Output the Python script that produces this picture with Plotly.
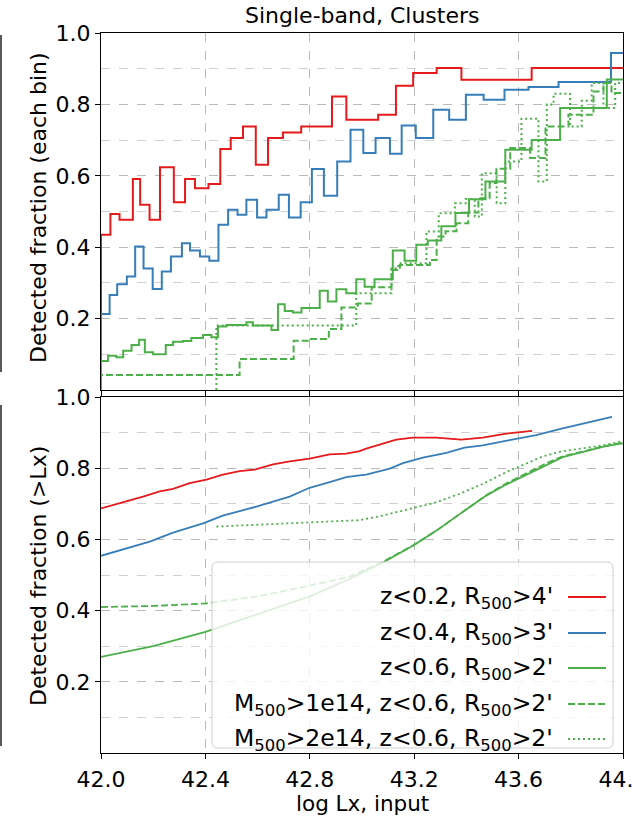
import plotly.graph_objects as go

# ---------------- data: top panel (per-bin detected fraction, step histograms) -------------
red_edges = [42.000, 42.036, 42.071, 42.122, 42.150, 42.186, 42.226, 42.279, 42.322, 42.360,
             42.412, 42.457, 42.497, 42.544, 42.593, 42.640, 42.697, 42.767, 42.885, 42.940,
             43.062, 43.130, 43.196, 43.286, 43.381, 43.650, 44.000]
red_frac = [0.435, 0.493, 0.477, 0.591, 0.519, 0.477, 0.624, 0.526, 0.591, 0.565,
            0.577, 0.675, 0.706, 0.738, 0.631, 0.706, 0.721, 0.738, 0.822, 0.757,
            0.771, 0.852, 0.888, 0.902, 0.869, 0.902]

blue_edges = [42.000, 42.033, 42.062, 42.099, 42.131, 42.163, 42.198, 42.233, 42.268, 42.310,
              42.341, 42.379, 42.415, 42.450, 42.487, 42.523, 42.557, 42.598, 42.634, 42.681,
              42.720, 42.765, 42.808, 42.854, 42.905, 42.956, 43.005, 43.052, 43.107, 43.152,
              43.206, 43.273, 43.334, 43.398, 43.466, 43.546, 43.638, 43.753, 43.954, 44.000]
blue_frac = [0.213, 0.266, 0.296, 0.318, 0.402, 0.340, 0.283, 0.332, 0.374, 0.411,
             0.391, 0.374, 0.362, 0.463, 0.505, 0.491, 0.533, 0.483, 0.505, 0.547,
             0.483, 0.526, 0.619, 0.544, 0.640, 0.729, 0.664, 0.706, 0.662, 0.741,
             0.706, 0.785, 0.757, 0.827, 0.813, 0.841, 0.849, 0.863, 0.944]

green_edges = [42.000, 42.027, 42.059, 42.085, 42.117, 42.146, 42.168, 42.199, 42.248, 42.276,
               42.314, 42.346, 42.391, 42.423, 42.448, 42.480, 42.557, 42.582, 42.653, 42.678,
               42.704, 42.735, 42.768, 42.838, 42.869, 42.902, 42.940, 42.978, 43.010, 43.048,
               43.118, 43.163, 43.208, 43.252, 43.304, 43.358, 43.410, 43.473, 43.549, 43.650,
               43.759, 43.938, 44.000]
green_frac = [0.081, 0.096, 0.092, 0.110, 0.126, 0.141, 0.106, 0.100, 0.126, 0.135,
              0.137, 0.146, 0.154, 0.148, 0.178, 0.182, 0.190, 0.181, 0.168, 0.240,
              0.221, 0.217, 0.230, 0.278, 0.248, 0.282, 0.271, 0.310, 0.289, 0.310,
              0.391, 0.362, 0.407, 0.419, 0.459, 0.496, 0.534, 0.584, 0.673, 0.700,
              0.790, 0.870]

m1_edges = [42.000, 42.531, 42.738, 42.799, 42.873, 42.921, 42.984, 43.037, 43.113, 43.145,
            43.260, 43.286, 43.320, 43.362, 43.407, 43.446, 43.489, 43.515, 43.568, 43.644,
            43.703, 43.791, 43.887, 43.925, 43.956, 44.000]
m1_frac = [0.042, 0.087, 0.138, 0.143, 0.171, 0.231, 0.242, 0.288, 0.336, 0.350,
           0.364, 0.430, 0.445, 0.467, 0.497, 0.537, 0.580, 0.620, 0.678, 0.650,
           0.738, 0.771, 0.836, 0.860, 0.832]

m2_edges = [42.442, 42.978, 43.113, 43.139, 43.247, 43.294, 43.356, 43.397, 43.432, 43.459,
            43.516, 43.549, 43.611, 43.676, 43.708, 43.734, 43.797, 43.842, 43.880, 43.925,
            43.970, 44.000]
m2_frac = [0.181, 0.271, 0.341, 0.355, 0.444, 0.495, 0.523, 0.535, 0.486, 0.607,
           0.523, 0.640, 0.760, 0.584, 0.800, 0.830, 0.738, 0.810, 0.860, 0.790,
           0.860]

# ---------------- data: bottom panel (cumulative detected fraction, > Lx) -------------
red_cx = [42.000, 42.085, 42.161, 42.225, 42.276, 42.340, 42.404, 42.467, 42.531, 42.589,
          42.659, 42.723, 42.799, 42.876, 42.940, 42.991, 43.016, 43.080, 43.131, 43.195,
          43.284, 43.380, 43.463, 43.552, 43.652]
red_cy = [0.687, 0.704, 0.720, 0.735, 0.742, 0.758, 0.768, 0.782, 0.792, 0.796,
          0.811, 0.819, 0.827, 0.839, 0.841, 0.848, 0.855, 0.869, 0.880, 0.886,
          0.886, 0.880, 0.886, 0.897, 0.905]

blue_cx = [42.000, 42.085, 42.187, 42.276, 42.391, 42.467, 42.595, 42.723, 42.799, 42.876,
           42.940, 42.991, 43.016, 43.106, 43.157, 43.233, 43.323, 43.393, 43.463, 43.565,
           43.667, 43.769, 43.871, 43.958]
blue_cy = [0.554, 0.573, 0.594, 0.619, 0.645, 0.667, 0.692, 0.720, 0.745, 0.761,
           0.775, 0.780, 0.782, 0.799, 0.814, 0.830, 0.843, 0.858, 0.864, 0.879,
           0.893, 0.912, 0.930, 0.944]

green_cx = [42.000, 42.200, 42.400, 42.600, 42.800, 42.950, 43.080, 43.195, 43.284, 43.374,
            43.476, 43.552, 43.654, 43.718, 43.769, 43.846, 43.922, 43.974, 44.000]
green_cy = [0.270, 0.300, 0.340, 0.390, 0.440, 0.488, 0.535, 0.582, 0.624, 0.671,
            0.723, 0.754, 0.789, 0.813, 0.831, 0.846, 0.860, 0.867, 0.870]

m1_cx = [42.000, 42.200, 42.400, 42.600, 42.800, 42.950, 43.080, 43.195, 43.284, 43.374,
         43.476, 43.552, 43.654, 43.718, 43.769, 43.846, 43.922, 44.000]
m1_cy = [0.410, 0.413, 0.420, 0.440, 0.470, 0.495, 0.537, 0.583, 0.624, 0.672,
         0.724, 0.757, 0.795, 0.818, 0.833, 0.847, 0.861, 0.872]

m2_cx = [42.442, 42.723, 42.991, 43.080, 43.195, 43.284, 43.374, 43.463, 43.552, 43.629,
         43.693, 43.756, 43.846, 43.922, 44.000]
m2_cy = [0.636, 0.645, 0.654, 0.667, 0.688, 0.704, 0.728, 0.756, 0.789, 0.813,
         0.833, 0.846, 0.855, 0.864, 0.876]

x_ticks = [42.0, 42.4, 42.8, 43.2, 43.6, 44.0]
x_ticktext = ["42.0", "42.4", "42.8", "43.2", "43.6", "44.0"]
y_ticks = [0.2, 0.4, 0.6, 0.8, 1.0]
y_ticktext = ["0.2", "0.4", "0.6", "0.8", "1.0"]
y_minor = [0.1, 0.3, 0.5, 0.7, 0.9]

legend_labels = ["z<0.2, R<sub>500</sub>>4'", "z<0.4, R<sub>500</sub>>3'", "z<0.6, R<sub>500</sub>>2'",
                 "M<sub>500</sub>>1e14, z<0.6, R<sub>500</sub>>2'",
                 "M<sub>500</sub>>2e14, z<0.6, R<sub>500</sub>>2'"]

RED, BLUE, GREEN = "#e41a1c", "#377eb8", "#4daf4a"
DASH, DOT = "7px,3px", "2px,3px"
styles = [(RED, "solid"), (BLUE, "solid"), (GREEN, "solid"), (GREEN, DASH), (GREEN, DOT)]

FONT = "DejaVu Sans"
FS = 22
LFS = 23.5

fig = go.Figure()


def step_xy(edges, vals):
    x = [edges[0]] + list(edges)
    y = [0.0] + list(vals) + [vals[-1]]
    return x, y


top_sets = [(red_edges, red_frac), (blue_edges, blue_frac), (green_edges, green_frac),
            (m1_edges, m1_frac), (m2_edges, m2_frac)]
for (e, v), (c, d) in zip(top_sets, styles):
    x, y = step_xy(e, v)
    fig.add_trace(go.Scatter(x=x, y=y, mode="lines", line=dict(color=c, width=2, dash=d, shape="hv"),
                             xaxis="x", yaxis="y", showlegend=False, hoverinfo="skip"))

bot_sets = [(red_cx, red_cy), (blue_cx, blue_cy), (green_cx, green_cy), (m1_cx, m1_cy), (m2_cx, m2_cy)]
for (x, y), (c, d), name in zip(bot_sets, styles, legend_labels):
    fig.add_trace(go.Scatter(x=x, y=y, mode="lines", line=dict(color=c, width=1.8, dash=d),
                             xaxis="x2", yaxis="y2", name=name, showlegend=False, hoverinfo="skip"))

# plot area geometry (pixels)
L, R, T, B = 101, 9, 33, 63
W, H = 632, 816
PW, PH = W - L - R, H - T - B
top_bottom_px = 390
bot_top_px = 397


def px_x(px):
    return (px - L) / PW


def px_y(py):
    return (H - B - py) / PH


GRID = "#b9b9b9"
axis_common = dict(range=[42, 44], tickvals=x_ticks, ticktext=x_ticktext, ticks="outside", ticklen=5,
                   tickwidth=1, tickcolor="black", showgrid=True, gridcolor=GRID, griddash="dash",
                   gridwidth=0.8, showline=True, mirror=True, linecolor="black", linewidth=1.2,
                   zeroline=False, tickfont=dict(family=FONT, size=FS, color="black"))
yaxis_common = dict(range=[0, 1], tickvals=y_ticks, ticktext=y_ticktext, ticks="outside", ticklen=5,
                    tickwidth=1, tickcolor="black", showgrid=True, gridcolor=GRID, griddash="dash",
                    gridwidth=0.8, showline=True, mirror=True, linecolor="black", linewidth=1.2,
                    zeroline=False, tickfont=dict(family=FONT, size=FS, color="black"),
                    minor=dict(tickvals=y_minor, showgrid=True, gridcolor="#d0d0d0", griddash="dash",
                               gridwidth=0.8, ticks=""))

fig.update_layout(
    width=W, height=H, margin=dict(l=L, r=R, t=T, b=B, autoexpand=False),
    paper_bgcolor="white", plot_bgcolor="white",
    font=dict(family=FONT, size=FS, color="black"),
    xaxis=dict(axis_common, domain=[0, 1], anchor="y", showticklabels=False),
    yaxis=dict(yaxis_common, domain=[px_y(top_bottom_px), 1], anchor="x"),
    xaxis2=dict(axis_common, domain=[0, 1], anchor="y2", ticklabelstandoff=1,
                ticklabeloverflow="allow"),
    yaxis2=dict(yaxis_common, domain=[0, px_y(bot_top_px)], anchor="x2"),
    showlegend=False,
)

ann = []
ann.append(dict(text="Single-band, Clusters", x=0.5, xref="paper", y=px_y(15), yref="paper",
                showarrow=False, xanchor="center", yanchor="middle", font=dict(family=FONT, size=FS)))
ann.append(dict(text="log Lx, input", x=0.5, xref="paper", y=px_y(803), yref="paper",
                showarrow=False, xanchor="center", yanchor="middle", font=dict(family=FONT, size=21.5)))
ann.append(dict(text="Detected fraction (each bin)", x=px_x(38), xref="paper", y=px_y(208), yref="paper",
                showarrow=False, textangle=-90, xanchor="center", yanchor="middle",
                font=dict(family=FONT, size=FS)))
ann.append(dict(text="Detected fraction (>Lx)", x=px_x(38), xref="paper", y=px_y(576), yref="paper",
                showarrow=False, textangle=-90, xanchor="center", yanchor="middle",
                font=dict(family=FONT, size=FS)))

shapes = []
# stray frame lines at the left edge
shapes.append(dict(type="line", xref="paper", yref="paper", x0=px_x(1), x1=px_x(1),
                   y0=px_y(35), y1=px_y(372), line=dict(color="#222222", width=1.5)))
shapes.append(dict(type="line", xref="paper", yref="paper", x0=px_x(1), x1=px_x(1),
                   y0=px_y(405), y1=px_y(746), line=dict(color="#222222", width=1.5)))

# legend box (rounded)
x0, x1 = px_x(212), px_x(613)
y0, y1 = px_y(748), px_y(562)
rx, ry = 6 / PW, 6 / PH
path = (f"M {x0+rx},{y1} L {x1-rx},{y1} Q {x1},{y1} {x1},{y1-ry} L {x1},{y0+ry} "
        f"Q {x1},{y0} {x1-rx},{y0} L {x0+rx},{y0} Q {x0},{y0} {x0},{y0+ry} "
        f"L {x0},{y1-ry} Q {x0},{y1} {x0+rx},{y1} Z")
shapes.append(dict(type="path", xref="paper", yref="paper", path=path, layer="above",
                   fillcolor="rgba(255,255,255,0.8)", line=dict(color="#d0d0d0", width=1)))

entry_py = [597, 633, 668, 704, 739]
for lab, (c, d), py in zip(legend_labels, styles, entry_py):
    ann.append(dict(text=lab, x=px_x(555), xref="paper", y=px_y(py), yref="paper", showarrow=False,
                    xanchor="right", yanchor="middle", font=dict(family=FONT, size=LFS)))
    shapes.append(dict(type="line", xref="paper", yref="paper", x0=px_x(568), x1=px_x(606),
                       y0=px_y(py), y1=px_y(py), layer="above", line=dict(color=c, width=2, dash=d)))

fig.update_layout(annotations=ann, shapes=shapes)
fig.write_html("out.html")
